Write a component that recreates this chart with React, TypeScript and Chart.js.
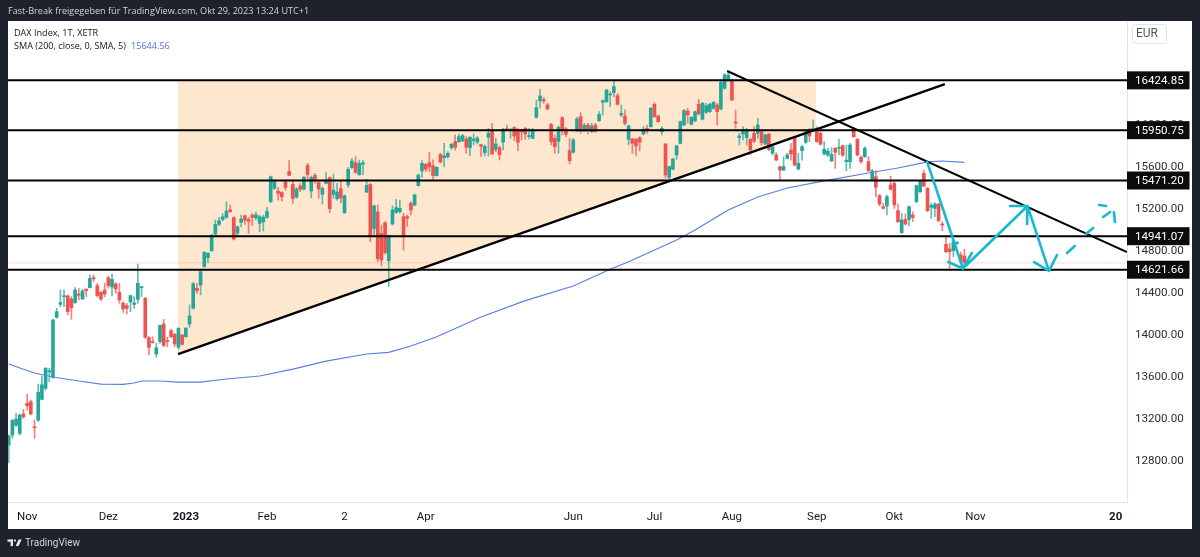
import React, { useEffect, useRef } from 'react';
import Chart from 'chart.js/auto';

// daily candles
const opens = [
  12952,13048,13140,13063,13248,13349,13365,13124,13190,13387,
  13492,13648,13597,14168,14292,14365,14372,14343,14308,14391,
  14343,14438,14451,14546,14470,14407,14429,14546,14457,14486,
  14407,14302,14280,14314,14292,14340,14451,14349,13975,13930,
  13819,13937,14105,13943,14041,14006,13883,14000,13984,14105,
  14254,14445,14476,14651,14737,14803,14961,15053,15101,15120,
  15193,15117,14971,15073,15136,15101,15142,15114,15063,15076,
  15120,15269,15396,15371,15358,15457,15558,15434,15314,15419,
  15390,15615,15371,15520,15450,15339,15444,15498,15339,15298,
  15393,15165,15428,15593,15641,15527,15625,15361,15434,15012,
  15171,14968,15069,14707,15057,15168,15175,15127,15127,15254,
  15238,15422,15562,15625,15641,15610,15518,15718,15689,15698,
  15784,15841,15841,15848,15867,15784,15851,15838,15813,15737,
  15883,15952,15768,15784,15838,15965,15946,15975,15952,15943,
  15968,15889,15873,16073,16229,16241,16191,16006,15873,15845,
  16070,15962,15756,15740,15943,16079,15943,16000,15936,16000,
  16041,16216,16222,16286,16308,16279,16095,16086,15863,15867,
  15863,15879,15914,15968,15984,16197,16086,15936,15819,15501,
  15578,15714,15825,16000,16133,16006,16038,16197,16054,16121,
  16127,16159,16190,16152,16349,16428,16428,16028,15879,15914,
  15879,15863,15920,15920,15936,15819,15914,15730,15714,15603,
  15571,15682,15762,15882,15581,15755,15835,15959,15952,15968,
  15920,15724,15714,15657,15778,15778,15803,15651,15651,15959,
  15863,15692,15698,15651,15482,15508,15327,15222,15228,15428,
  15444,15184,14974,15101,15101,15143,15270,15365,15539,15397,
  15216,15206,15247,15054,14863,14819,14803,14873,14762,14752,
];
const highs = [
  13048,13197,13254,13248,13292,13435,13381,13190,13533,13610,
  13692,13683,14149,14254,14429,14429,14381,14365,14451,14445,
  14435,14438,14572,14572,14492,14413,14492,14562,14581,14499,
  14492,14318,14302,14381,14365,14676,14460,14359,13984,13984,
  13921,14095,14149,13978,14057,14016,14070,14006,14073,14286,
  14499,14492,14613,14794,14784,14961,15095,15120,15158,15269,
  15238,15126,15038,15142,15142,15120,15158,15174,15142,15142,
  15215,15514,15476,15406,15365,15476,15660,15482,15406,15444,
  15514,15634,15514,15539,15469,15412,15546,15507,15533,15444,
  15476,15333,15596,15682,15698,15666,15666,15482,15444,15238,
  15238,15047,15079,14952,15228,15292,15286,15159,15143,15270,
  15343,15533,15660,15635,15737,15667,15603,15730,15825,15746,
  15825,15905,15914,15911,15889,15889,15914,15889,15819,15810,
  15968,16016,15873,15800,15968,16000,15968,15984,15968,15959,
  15978,15968,15968,16238,16340,16264,16206,16016,15905,15991,
  16079,15978,15873,15873,16073,16118,16016,16016,16016,16016,
  16127,16238,16340,16317,16428,16301,16190,16143,16000,15873,
  15873,15889,15984,16000,16168,16213,16095,15984,15825,15609,
  15682,15809,16038,16149,16159,16079,16133,16244,16216,16206,
  16206,16222,16206,16413,16492,16508,16435,16143,15920,15984,
  15968,15873,15984,16063,15946,15914,15920,15800,15736,15609,
  15698,15730,15825,15889,15730,15809,15952,15968,16047,15984,
  15936,15841,15778,15784,15784,15863,15809,15809,15825,15968,
  15873,15705,15793,15698,15578,15565,15339,15254,15333,15514,
  15460,15247,15158,15152,15228,15174,15428,15470,15571,15406,
  15254,15260,15254,15079,14936,14873,14904,14889,14790,14816,
];
const lows = [
  12784,13016,13127,13048,13206,13286,13238,13016,13175,13381,
  13476,13556,13587,14159,14270,14270,14191,14149,14302,14333,
  14340,14365,14445,14508,14365,14327,14365,14445,14372,14397,
  14302,14216,14200,14222,14254,14302,14365,13968,13810,13921,
  13787,13921,13889,13889,13975,13889,13864,13905,13978,14073,
  14248,14397,14381,14645,14689,14793,14952,15041,15088,15111,
  15168,14904,14942,15031,15053,14968,15041,15095,14984,14990,
  15111,15260,15387,15285,15276,15380,15520,15253,15301,15365,
  15380,15476,15307,15444,15301,15247,15438,15165,15301,15285,
  15260,15158,15406,15587,15539,15520,15527,15355,14888,14936,
  14698,14657,14771,14460,15047,15158,15159,14809,15032,15143,
  15229,15419,15502,15556,15556,15483,15514,15635,15603,15683,
  15768,15762,15835,15841,15730,15708,15810,15819,15698,15705,
  15705,15718,15746,15667,15762,15946,15873,15851,15756,15857,
  15864,15867,15867,16064,16159,16206,16143,15810,15730,15730,
  15905,15889,15629,15730,15937,15921,15937,15914,15927,15927,
  16032,16095,16213,16174,16270,16190,16079,16000,15809,15730,
  15705,15755,15905,15920,15978,16073,16025,15905,15492,15482,
  15571,15673,15819,15990,16016,16000,16032,16095,16047,16111,
  16117,16149,16000,16143,16340,16413,16232,15968,15809,15857,
  15809,15714,15832,15873,15809,15809,15755,15714,15660,15482,
  15565,15676,15666,15609,15571,15666,15825,15841,15936,15835,
  15809,15714,15698,15651,15587,15714,15698,15565,15587,15882,
  15705,15635,15692,15555,15466,15317,15228,15197,15143,15381,
  15206,15070,14968,15047,15038,15079,15260,15355,15412,15174,
  15111,15127,15079,14993,14784,14635,14746,14857,14680,14666,
];
const closes = [
  13041,13187,13200,13238,13222,13327,13248,13117,13454,13527,
  13683,13660,14143,14222,14308,14372,14222,14260,14429,14378,
  14419,14422,14540,14534,14375,14343,14391,14470,14530,14438,
  14333,14248,14254,14375,14305,14492,14457,13978,13883,13927,
  13879,14092,13902,13937,13984,13914,14064,13911,14064,14181,
  14489,14422,14603,14788,14778,14946,15053,15088,15126,15180,
  15174,14914,15031,15104,15095,15082,15120,15146,15126,15123,
  15177,15507,15460,15349,15317,15406,15520,15301,15390,15387,
  15501,15530,15501,15469,15390,15396,15476,15203,15380,15361,
  15304,15327,15577,15657,15549,15634,15641,15425,14936,15231,
  14726,14714,14784,14946,15190,15212,15206,14946,15111,15190,
  15333,15524,15635,15578,15600,15518,15597,15648,15705,15730,
  15816,15787,15889,15899,15787,15883,15867,15876,15797,15797,
  15921,15724,15819,15718,15959,15952,15956,15895,15835,15933,
  15914,15899,15952,16165,16276,16229,16153,15841,15794,15978,
  15952,15911,15660,15857,16057,15943,15997,15952,15990,15943,
  16101,16232,16333,16292,16365,16197,16111,16016,15990,15825,
  15800,15838,15959,15943,16159,16079,16032,15968,15524,15603,
  15676,15800,16032,16136,16095,16073,16127,16105,16206,16184,
  16197,16216,16127,16406,16476,16476,16238,16016,15895,15959,
  15952,15762,15847,16000,15832,15905,15768,15793,15666,15571,
  15603,15714,15724,15619,15635,15793,15936,15895,15968,15841,
  15816,15768,15752,15720,15740,15784,15714,15666,15809,15889,
  15714,15651,15778,15565,15562,15406,15247,15206,15317,15387,
  15238,15079,15095,15057,15222,15120,15422,15460,15419,15184,
  15235,15247,15089,15047,14793,14793,14889,14879,14700,14687,
];

// SMA 200, picked at the bends of the blue line
const smaBars = [0,3,7,12,19,25,31,34,36,41,46,52,59,68,77,86,97,103,109,116,128,140,153,163,168,181,186,195,203,211,221,233,241,249,253,259];
const smaValues = [13724,13686,13638,13600,13562,13533,13530,13543,13562,13562,13552,13552,13581,13610,13676,13752,13819,13835,13895,13984,14171,14327,14467,14626,14698,14905,15000,15190,15314,15400,15467,15543,15590,15648,15657,15644.56];

const levels = [16424.85, 15950.75, 15471.2, 14941.07, 14621.66];
const lastClose = 14687;

const yTicks = [12800, 13200, 13600, 14000, 14400, 14800, 15200, 15600, 16000, 16400];
const xTickBars = [5, 27, 48, 70, 91, 113, 153, 175, 196, 219, 240, 262, 300];
const xTickLabels = ['Nov', 'Dez', '2023', 'Feb', '2', 'Apr', 'Jun', 'Jul', 'Aug', 'Sep', 'Okt', 'Nov', '20'];
const boldTicks = ['2023', '20'];

// drawings on the chart, in bar index / price
const shadeBars = [45.9, 218.8];
const shadePrices = [13819, 15962];
const riseBars = [45.9, 253.7];
const risePrices = [13819, 16390];
const fallBars = [194.7, 303.06];
const fallPrices = [16514, 14790];
// null starts a new stroke
const cyanBars = [248.9, 258.6, 254.6, null, 258.6, 261, null, 258.6, 276.1, 271.4, null, 276.1, 276, null, 276.1, 281.9, 277.9, null, 281.9, 284.1, null, 286.8, 288.9, null, 291.9, 293.9, null, 296.6, 298.5, null, 295.5, 297.4, null, 299.5, 299.8];
const cyanPrices = [15648, 14633, 14695, null, 14633, 14781, null, 14633, 15229, 15229, null, 15229, 15057, null, 15229, 14610, 14695, null, 14610, 14762, null, 14781, 14848, null, 14962, 15019, null, 15124, 15171, null, 15238, 15229, null, 15171, 15076];

const UP = '#26a69a';
const DOWN = '#ef5350';
const DARK = '#1e222d';
const X_MIN = -0.19;
const X_MAX = 303.06;

const zip = (xs: (number | null)[], ys: (number | null)[]) => xs.map((x, i) => ({ x: x ?? 0, y: ys[i] }));

const frame = {
  id: 'frame',
  beforeDraw(chart: any) {
    const { ctx } = chart;
    ctx.save();
    ctx.fillStyle = DARK;
    ctx.fillRect(0, 0, 1200, 557);
    ctx.fillStyle = '#ffffff';
    ctx.fillRect(8, 21, 1184, 508);
    ctx.restore();
  },
  afterDraw(chart: any) {
    const { ctx, scales } = chart;
    ctx.save();
    ctx.textBaseline = 'middle';

    ctx.fillStyle = '#d1d4dc';
    ctx.font = '9.1px "Open Sans"';
    ctx.fillText('Fast-Break freigegeben für TradingView.com, Okt 29, 2023 13:24 UTC+1', 8, 11);

    ctx.fillStyle = '#131722';
    ctx.font = '9.1px "Open Sans"';
    ctx.fillText('DAX Index, 1T, XETR', 14, 33);
    ctx.fillText('SMA (200, close, 0, SMA, 5)', 14, 46);
    ctx.fillStyle = '#4f6fd8';
    ctx.fillText('15644.56', 131, 46);

    // level tags on the price axis
    levels.forEach((level) => {
      const y = scales.y.getPixelForValue(level);
      ctx.fillStyle = '#0b0b0b';
      ctx.fillRect(1127, y - 9, 62.5, 18);
      ctx.fillStyle = '#ffffff';
      ctx.font = '11.6px Roboto';
      ctx.fillText(level.toFixed(2), 1135, y + 0.5);
    });

    // currency box
    ctx.strokeStyle = '#e0e3eb';
    ctx.beginPath();
    ctx.roundRect(1132.5, 24.5, 34, 19, 3);
    ctx.stroke();
    ctx.fillStyle = '#50535e';
    ctx.font = '12px Roboto';
    ctx.textAlign = 'center';
    ctx.fillText('EUR', 1147, 34);
    ctx.textAlign = 'left';

    // footer logo and name
    ctx.fillStyle = '#e8e9ed';
    ctx.fillRect(7.5, 539.5, 5.5, 2.2);
    ctx.fillRect(10.6, 539.5, 2.4, 6.6);
    ctx.beginPath();
    ctx.arc(15, 540.6, 1.1, 0, Math.PI * 2);
    ctx.fill();
    ctx.beginPath();
    ctx.moveTo(18.6, 539.5);
    ctx.lineTo(21.7, 539.5);
    ctx.lineTo(18.6, 546.1);
    ctx.lineTo(15.6, 546.1);
    ctx.fill();
    ctx.fillStyle = '#d1d4dc';
    ctx.font = '10px Roboto';
    ctx.fillText('TradingView', 25, 543.5);
    ctx.restore();
  },
};

export default function App() {
  const chartRef = useRef<HTMLCanvasElement>(null);

  useEffect(() => {
    document.body.style.margin = '0';
    document.body.style.background = DARK;
    const canvas = chartRef.current;
    if (!canvas) return;

    const colors = opens.map((o, i) => (closes[i] >= o ? UP : DOWN));
    const flat = (value: number) => [{ x: X_MIN, y: value }, { x: X_MAX, y: value }];
    const plainLine = { type: 'line', pointRadius: 0, tension: 0, fill: false };

    const chart = new Chart(canvas, {
      type: 'bar',
      plugins: [frame],
      data: {
        datasets: [
          {
            ...plainLine,
            data: zip(cyanBars, cyanPrices),
            borderColor: '#17b8d0',
            borderWidth: 2.6,
            borderCapStyle: 'round',
            borderJoinStyle: 'round',
            spanGaps: false,
            order: 0,
          },
          { ...plainLine, data: zip(riseBars, risePrices), borderColor: '#000000', borderWidth: 2.4, order: 1 },
          { ...plainLine, data: zip(fallBars, fallPrices), borderColor: '#000000', borderWidth: 2, order: 1 },
          ...levels.map((level) => ({
            ...plainLine,
            data: flat(level),
            borderColor: '#000000',
            borderWidth: 2,
            order: 1,
          })),
          { ...plainLine, data: zip(smaBars, smaValues), borderColor: '#5b7fe0', borderWidth: 1.2, order: 2 },
          {
            data: opens.map((o, i) => ({ x: i, y: [o, closes[i]] })),
            backgroundColor: colors,
            barThickness: 3,
            minBarLength: 1,
            grouped: false,
            order: 3,
          },
          {
            data: lows.map((l, i) => ({ x: i, y: [l, highs[i]] })),
            backgroundColor: colors.map((c) => c + 'bb'),
            barThickness: 1,
            grouped: false,
            order: 4,
          },
          { ...plainLine, data: flat(lastClose), borderColor: 'rgba(239,83,80,0.22)', borderWidth: 1, order: 5 },
          {
            ...plainLine,
            data: zip(shadeBars, shadePrices),
            borderWidth: 0,
            backgroundColor: '#fde8cf',
            fill: { target: { value: levels[0] } },
            order: 6,
          },
        ],
      } as any,
      options: {
        animation: false,
        responsive: false,
        devicePixelRatio: 1,
        layout: { padding: { left: 8, right: 8, top: 21, bottom: 28 } },
        plugins: { legend: { display: false }, tooltip: { enabled: false } },
        scales: {
          x: {
            type: 'linear',
            offset: false,
            min: X_MIN,
            max: X_MAX,
            grid: { display: false, drawTicks: false, offset: false },
            border: { color: '#e0e3eb' },
            afterBuildTicks: (scale: any) => {
              scale.ticks = xTickBars.map((value) => ({ value }));
            },
            afterFit: (scale: any) => {
              scale.height = 27;
            },
            ticks: {
              autoSkip: false,
              maxRotation: 0,
              padding: 8,
              color: '#131722',
              callback: (value: any) => xTickLabels[xTickBars.indexOf(Number(value))],
              font: (ctx: any) => {
                const label = xTickLabels[xTickBars.indexOf(ctx.tick?.value)];
                return { family: 'Roboto', size: 11.5, weight: boldTicks.includes(label) ? 'bold' : 'normal' };
              },
            },
          },
          y: {
            type: 'linear',
            position: 'right',
            min: 12410,
            max: 16990,
            grid: { display: false, drawTicks: false },
            border: { color: '#e0e3eb' },
            afterBuildTicks: (scale: any) => {
              scale.ticks = yTicks.map((value) => ({ value }));
            },
            afterFit: (scale: any) => {
              scale.width = 65;
            },
            ticks: {
              autoSkip: false,
              padding: 8,
              color: '#2a2e39',
              font: { family: 'Roboto', size: 11.6 },
              callback: (value: any) => Number(value).toFixed(2),
            },
          },
        },
      },
    } as any);

    return () => {
      chart.destroy();
    };
  }, []);

  return <canvas ref={chartRef} width={1200} height={557} style={{ display: 'block' }} />;
}
